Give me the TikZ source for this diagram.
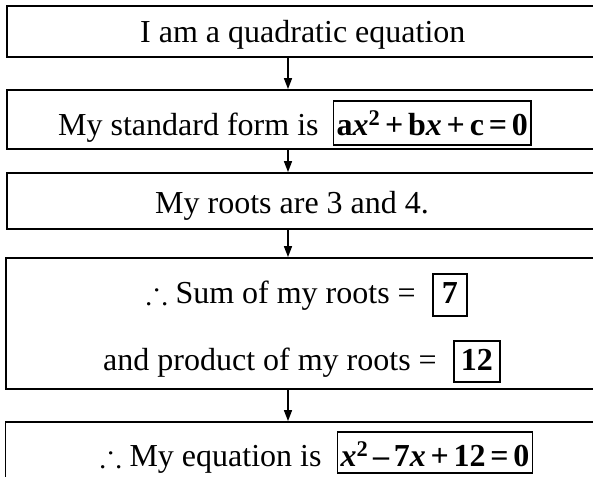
\documentclass[tikz,border=0pt]{standalone}
\usepackage{amssymb}
\usepackage{fontspec}
\setmainfont{Liberation Serif}
\usetikzlibrary{arrows.meta}
\newcommand{\op}[1]{\hspace{0.15em}#1\hspace{0.15em}}
\begin{document}
\begin{tikzpicture}[x=1pt,y=-1pt,
  bx/.style={draw,line width=1.8pt,inner sep=0pt,minimum width=595pt},
  txt/.style={inner sep=0pt,font=\fontsize{32}{38}\selectfont},
  ibox/.style={draw,line width=1.6pt,inner xsep=3pt,inner ysep=7pt,font=\fontsize{32}{38}\selectfont\bfseries},
  arr/.style={line width=1.5pt,-{Triangle[length=11pt,width=8pt]}}]
\useasboundingbox (0,0) rectangle (593,476);
\clip (0,0) rectangle (593,476);
\node[bx,minimum height=51pt] (b1) at (304.5,31.5) {};
\node[bx,minimum height=59pt] (b2) at (304.5,119.5) {};
\node[bx,minimum height=56pt] (b3) at (304.5,201) {};
\node[bx,minimum height=131pt] (b4) at (303.5,323.5) {};
\node[bx,minimum height=70pt] (b5) at (303,457) {};
\coordinate (ax) at (288,0);
\draw[arr] (b1.south -| ax) -- (b2.north -| ax);
\draw[arr] (b2.south -| ax) -- (b3.north -| ax);
\draw[arr] (b3.south -| ax) -- (b4.north -| ax);
\draw[arr] (b4.south -| ax) -- (b5.north -| ax);
\node[txt,anchor=base west] (t1) at (140,43) {I am a quadratic equation};
\node[txt,anchor=base west] (t2) at (58,135) {My standard form is};
\node[ibox,anchor=base west,text height=27pt,text depth=3pt] (f2) at ([xshift=14pt]t2.base east) {a\textit{x}\textsuperscript{2}\op{+}b\textit{x}\op{+}c\op{=}0};
\node[txt,anchor=base west] (t3) at (155,213) {My roots are 3 and 4.};
\node[txt,anchor=base west] (t4) at (146,303) {$\therefore$ Sum of my roots =};
\node[ibox,anchor=base west,inner xsep=9pt,text height=22pt,text depth=6pt] (f4) at ([xshift=16pt]t4.base east) {7};
\node[txt,anchor=base west] (t5) at (103,370) {and product of my roots =};
\node[ibox,anchor=base west,inner xsep=7pt,text height=22pt,text depth=5pt] (f5) at ([xshift=16pt]t5.base east) {12};
\node[txt,anchor=base west] (t6) at (100,466) {$\therefore$ My equation is};
\node[ibox,anchor=base west,text height=27pt,text depth=0pt] (f6) at ([xshift=15pt]t6.base east) {\textit{x}\textsuperscript{2}\op{--}7\textit{x}\op{+}12\op{=}0};
\end{tikzpicture}
\end{document}
